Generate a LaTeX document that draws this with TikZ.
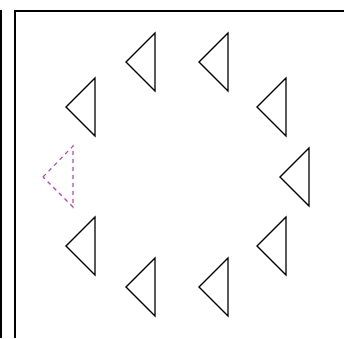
\documentclass[tikz,border=0pt]{standalone}
\begin{document}
\begin{tikzpicture}[x=1pt,y=-1pt,
  tri/.style={draw=black,line width=1.1pt,line join=miter},
  ghost/.style={draw={rgb,255:red,190;green,70;blue,190},line width=1.1pt,dash pattern=on 4pt off 4pt},
  frame/.style={draw=black,line width=2pt}]
\useasboundingbox (0,0) rectangle (344,338);
\fill[white] (0,0) rectangle (344,338);
% frame
\draw[frame] (1,10) -- (1,338);
\draw[frame] (15,338) -- (15,11) -- (344,11);
% triangles: apex (x,y), right side at x+29, half height 29
\foreach \x/\y in {126/62,199/62,66/107,257/107,280/177,66/246,257/246,126/287,199/287}
  \draw[tri] (\x,\y) -- (\x+29,\y-29) -- (\x+29,\y+29) -- cycle;
\draw[ghost] (43,177) -- (73,146) -- (73,207) -- cycle;
\end{tikzpicture}
\end{document}
